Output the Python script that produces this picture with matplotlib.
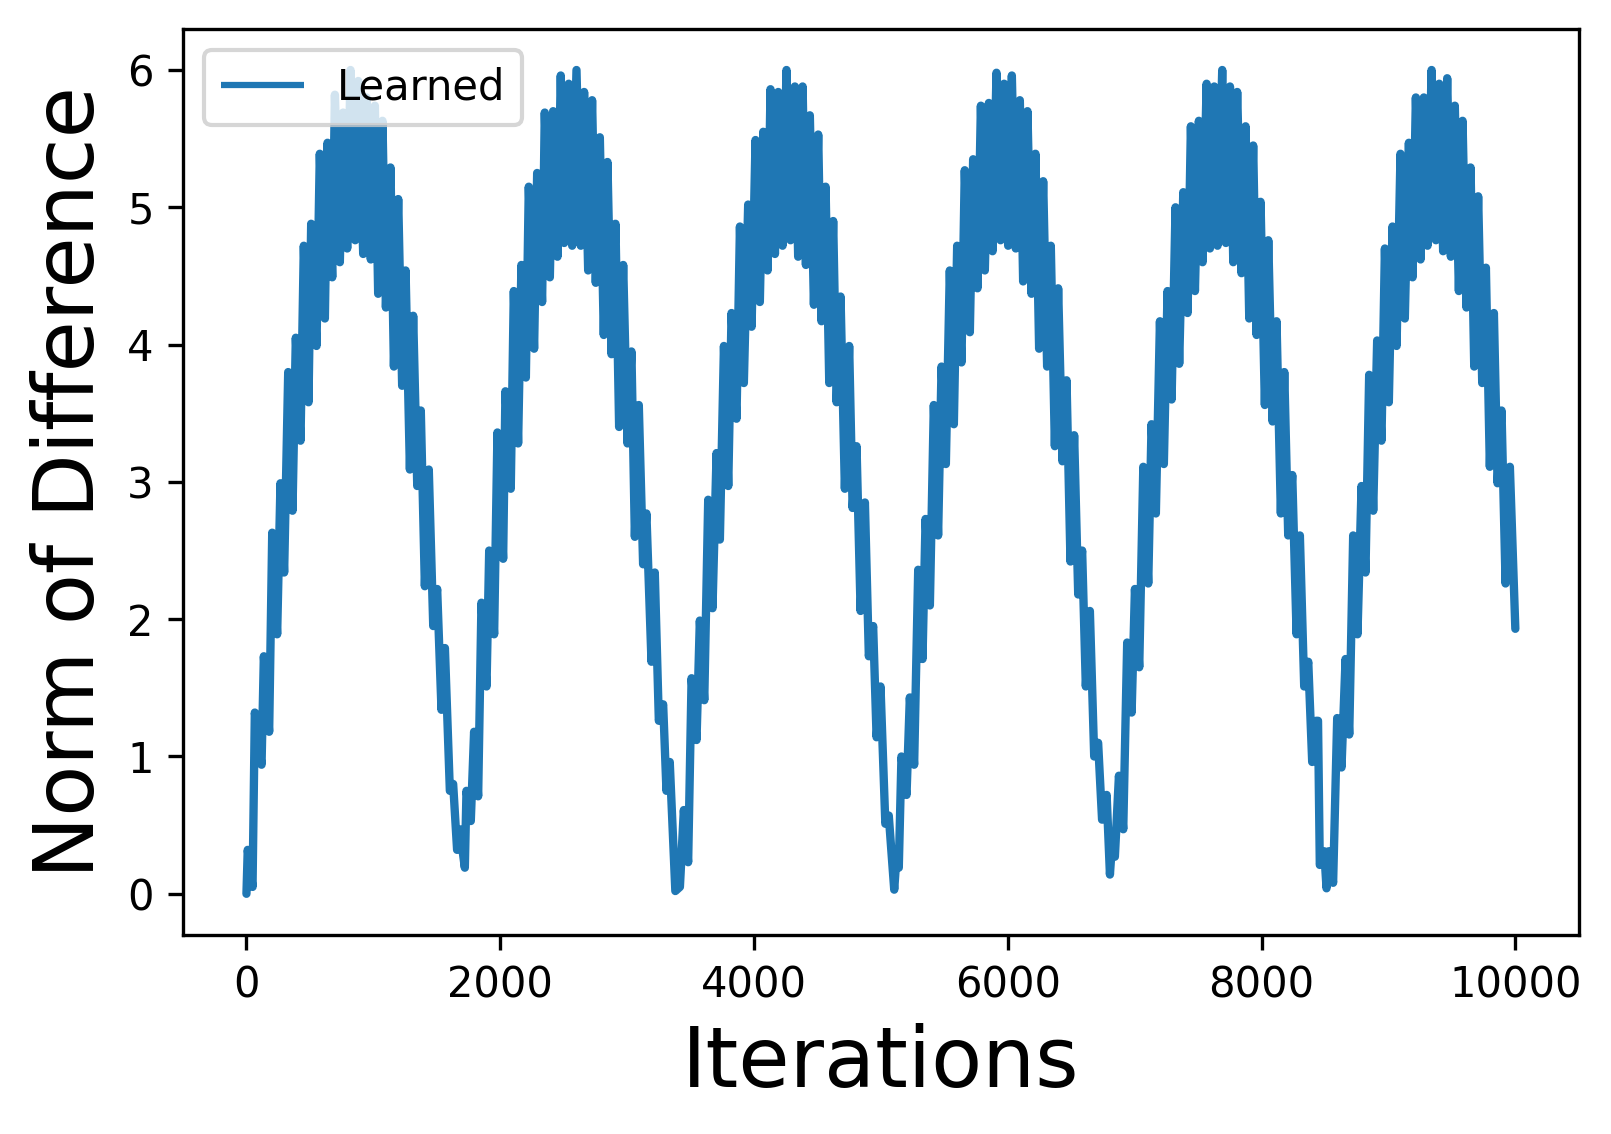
import numpy as np
import matplotlib
matplotlib.use("Agg")
import matplotlib.pyplot as plt

# Iteration / norm values, one cycle per pair of lists
cycle1_x = [0, 10, 48, 66, 119, 137, 179, 203, 242, 268, 297, 329, 363, 389, 426, 452, 489, 510, 552, 578,
            618, 639, 676, 697, 736, 762, 794, 820, 857, 881, 920, 946, 980, 1012, 1038, 1072, 1099, 1135, 1162, 1196,
            1227, 1254, 1288, 1314, 1346, 1374, 1406, 1437, 1472, 1503, 1537, 1564, 1603, 1629, 1660]
cycle1_y = [0.0, 0.32, 0.05, 1.32, 0.94, 1.73, 1.18, 2.63, 1.89, 2.99, 2.34, 3.80, 2.79, 4.05, 3.30, 4.72, 3.58, 4.88, 3.99, 5.39,
            4.19, 5.47, 4.49, 5.82, 4.60, 5.69, 4.70, 6.00, 4.76, 5.92, 4.66, 5.80, 4.62, 5.74, 4.37, 5.63, 4.27, 5.29, 3.84, 5.06,
            3.70, 4.54, 3.09, 4.21, 2.97, 3.52, 2.24, 3.09, 1.95, 2.22, 1.34, 1.79, 0.75, 0.80, 0.32]

cycle2_x = [1681, 1721, 1734, 1768, 1794, 1826, 1852, 1892, 1913, 1952, 1978, 2023, 2041, 2083, 2107, 2141, 2167, 2202, 2225, 2267,
            2291, 2330, 2351, 2391, 2417, 2451, 2477, 2504, 2540, 2567, 2601, 2635, 2661, 2693, 2724, 2753, 2785, 2816, 2845, 2877,
            2908, 2937, 2969, 3003, 3034, 3061, 3092, 3126, 3152, 3192, 3218, 3250, 3284, 3310, 3336, 3380]
cycle2_y = [0.47, 0.19, 0.75, 0.53, 1.18, 0.71, 2.12, 1.51, 2.50, 1.89, 3.36, 2.44, 3.66, 2.95, 4.39, 3.28, 4.58, 3.76, 5.15, 3.97,
            5.25, 4.31, 5.69, 4.49, 5.70, 4.64, 5.96, 4.74, 5.90, 4.72, 6.00, 4.72, 5.84, 4.54, 5.78, 4.45, 5.51, 4.07, 5.33, 3.93,
            4.88, 3.40, 4.58, 3.28, 3.95, 2.60, 3.56, 2.40, 2.77, 1.69, 2.34, 1.26, 1.38, 0.75, 0.96, 0.02]

cycle3_x = [3416, 3447, 3481, 3508, 3547, 3573, 3608, 3639, 3673, 3705, 3731, 3763, 3797, 3823, 3862, 3889, 3920, 3954, 3981, 4012,
            4046, 4073, 4107, 4130, 4165, 4191, 4225, 4256, 4288, 4322, 4348, 4383, 4409, 4440, 4472, 4506, 4532, 4564, 4593, 4624,
            4651, 4682, 4716, 4750, 4777, 4808, 4840, 4874, 4905, 4939, 4966, 4997, 5035, 5062, 5105]
cycle3_y = [0.05, 0.61, 0.23, 1.57, 1.12, 1.99, 1.41, 2.87, 2.08, 3.21, 2.58, 3.99, 2.97, 4.23, 3.46, 4.86, 3.72, 5.02, 4.13, 5.49,
            4.31, 5.55, 4.54, 5.86, 4.66, 5.84, 4.72, 6.00, 4.76, 5.88, 4.64, 5.88, 4.58, 5.67, 4.29, 5.53, 4.17, 5.15, 3.72, 4.90,
            3.58, 4.35, 2.95, 3.99, 2.81, 3.26, 2.06, 2.85, 1.73, 1.95, 1.14, 1.51, 0.51, 0.57, 0.03]

cycle4_x = [5123, 5141, 5162, 5202, 5228, 5262, 5294, 5328, 5352, 5386, 5417, 5451, 5478, 5512, 5543, 5575, 5601, 5635, 5661, 5701,
            5727, 5761, 5788, 5819, 5851, 5880, 5911, 5943, 5971, 6003, 6032, 6063, 6095, 6121, 6155, 6187, 6218, 6247, 6279, 6310,
            6339, 6371, 6397, 6431, 6463, 6494, 6523, 6555, 6586, 6615, 6647, 6681, 6712, 6743, 6779, 6805]
cycle4_y = [0.27, 0.19, 1.00, 0.72, 1.43, 0.94, 2.36, 1.71, 2.73, 2.10, 3.56, 2.61, 3.84, 3.13, 4.54, 3.42, 4.72, 3.87, 5.27, 4.09,
            5.35, 4.41, 5.74, 4.54, 5.76, 4.68, 5.98, 4.76, 5.90, 4.72, 5.96, 4.70, 5.78, 4.46, 5.70, 4.37, 5.39, 3.97, 5.19, 3.84,
            4.72, 3.26, 4.41, 3.15, 3.74, 2.42, 3.34, 2.18, 2.50, 1.51, 2.06, 1.00, 1.10, 0.54, 0.72, 0.14]

cycle5_x = [6826, 6844, 6876, 6910, 6941, 6976, 7002, 7036, 7068, 7107, 7133, 7167, 7199, 7230, 7259, 7291, 7322, 7351, 7383, 7417,
            7443, 7475, 7506, 7535, 7567, 7593, 7627, 7653, 7690, 7719, 7751, 7777, 7808, 7842, 7874, 7903, 7934, 7961, 7992, 8026,
            8053, 8087, 8118, 8152, 8179, 8210, 8242, 8276, 8302, 8336, 8368, 8399, 8430, 8445, 8459, 8494, 8512]
cycle5_y = [0.43, 0.27, 0.86, 0.47, 1.83, 1.32, 2.22, 1.65, 3.11, 2.26, 3.42, 2.77, 4.17, 3.13, 4.39, 3.60, 5.00, 3.86, 5.11, 4.23,
            5.59, 4.39, 5.63, 4.60, 5.90, 4.70, 5.88, 4.72, 6.00, 4.74, 5.88, 4.60, 5.84, 4.52, 5.59, 4.19, 5.45, 4.07, 5.04, 3.56,
            4.76, 3.44, 4.17, 2.77, 3.80, 2.61, 3.05, 1.89, 2.61, 1.51, 1.69, 0.96, 1.26, 1.26, 0.21, 0.31, 0.04]

cycle6_x = [8530, 8564, 8596, 8630, 8662, 8691, 8722, 8756, 8788, 8819, 8848, 8880, 8911, 8945, 8972, 9003, 9032, 9064, 9095, 9129,
            9161, 9190, 9216, 9253, 9279, 9308, 9340, 9374, 9400, 9431, 9463, 9492, 9523, 9555, 9584, 9615, 9647, 9676, 9707, 9739,
            9768, 9799, 9831, 9860, 9891, 9923, 9957, 10000]
cycle6_y = [0.31, 0.08, 1.28, 0.92, 1.71, 1.16, 2.61, 1.89, 2.97, 2.34, 3.78, 2.79, 4.03, 3.30, 4.70, 3.58, 4.86, 3.99, 5.39, 4.19,
            5.47, 4.49, 5.80, 4.62, 5.80, 4.72, 6.00, 4.76, 5.90, 4.68, 5.94, 4.64, 5.74, 4.39, 5.63, 4.27, 5.29, 3.84, 5.08, 3.72,
            4.56, 3.11, 4.23, 2.99, 3.52, 2.26, 3.11, 1.93]

series_label = "Learned"
x_label = "Iterations"
y_label = "Norm of Difference"

iterations = np.concatenate([cycle1_x, cycle2_x, cycle3_x, cycle4_x, cycle5_x, cycle6_x])
norms = np.concatenate([cycle1_y, cycle2_y, cycle3_y, cycle4_y, cycle5_y, cycle6_y])

fig, ax = plt.subplots(figsize=(1611 / 300, 1134 / 300), dpi=300)
fig.subplots_adjust(left=0.1136, right=0.980, top=0.9746, bottom=0.1755)

ax.plot(iterations, norms, color="#1f77b4", linewidth=2.0, label=series_label,
        solid_joinstyle="round", solid_capstyle="round")
ax.set_xlabel(x_label, fontsize=20)
ax.set_ylabel(y_label, fontsize=20)
ax.tick_params(labelsize=10)
leg = ax.legend(loc="upper left", fontsize=10)
for handle in leg.get_lines():
    handle.set_linewidth(1.5)
    handle.set_solid_capstyle("butt")

fig.savefig("out.png", dpi=300)
